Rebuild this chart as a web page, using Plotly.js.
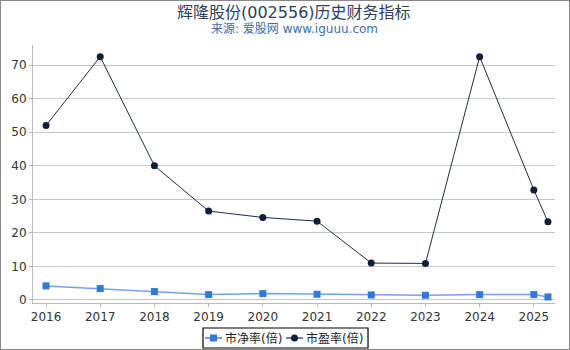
<!DOCTYPE html>
<html><head><meta charset="utf-8">
<script src="https://cdn.plot.ly/plotly-3.0.1.min.js"></script>
<style>html,body{margin:0;padding:0;background:#fff}#c{width:570px;height:350px;box-sizing:border-box;border:1px solid #888}</style>
</head><body><div id="c"></div>
<script>
const years = [2016, 2017, 2018, 2019, 2020, 2021, 2022, 2023, 2024, 2025, 2025.26];
const tickYears = [2016, 2017, 2018, 2019, 2020, 2021, 2022, 2023, 2024, 2025];
const pb = [4.2, 3.4, 2.5, 1.6, 1.9, 1.7, 1.5, 1.4, 1.6, 1.6, 0.9];
const pe = [52, 72.5, 40, 26.5, 24.6, 23.5, 11, 10.9, 72.5, 32.8, 23.3];
const names = ['市净率(倍)', '市盈率(倍)'];
const titleText = '辉隆股份(002556)历史财务指标';
const subText = '来源: 爱股网 www.iguuu.com';

const font = 'DejaVu Sans, Noto Sans CJK SC, sans-serif';
const pbLine = '#6fa3e6', pbMark = '#2f7ad6', peLine = '#1c2e4a', peMark = '#0e1f3a';
const data = [
  {x: years, y: pb, name: names[0], type: 'scatter', mode: 'lines+markers', showlegend: false,
   line: {color: pbLine, width: 1.5}, marker: {symbol: 'square', size: 7, color: pbMark}},
  {x: years, y: pe, name: names[1], type: 'scatter', mode: 'lines+markers', showlegend: false,
   line: {color: peLine, width: 1}, marker: {symbol: 'circle', size: 7, color: peMark}}
];
// legend drawn in paper coordinates
const ly = -0.1357;
const shapes = [
  {type: 'rect', xref: 'paper', yref: 'paper', x0: 0.3257, x1: 0.6418, y0: -0.0969, y1: -0.1744,
   line: {color: '#000', width: 1.2}, fillcolor: '#fff', layer: 'above'},
  {type: 'line', xref: 'paper', yref: 'paper', x0: 0.3295, x1: 0.3621, y0: ly, y1: ly, line: {color: pbLine, width: 2}},
  {type: 'rect', xref: 'paper', yref: 'paper', xsizemode: 'pixel', ysizemode: 'pixel', xanchor: 0.3458, yanchor: ly,
   x0: -3.5, x1: 3.5, y0: -3.5, y1: 3.5, line: {width: 0}, fillcolor: pbMark},
  {type: 'line', xref: 'paper', yref: 'paper', x0: 0.4847, x1: 0.5172, y0: ly, y1: ly, line: {color: peLine, width: 1.2}},
  {type: 'circle', xref: 'paper', yref: 'paper', xsizemode: 'pixel', ysizemode: 'pixel', xanchor: 0.5010, yanchor: ly,
   x0: -3.5, x1: 3.5, y0: -3.5, y1: 3.5, line: {width: 0}, fillcolor: peMark}
];
const layout = {
  width: 568, height: 348,
  margin: {l: 32, r: 14, t: 44, b: 46},
  paper_bgcolor: '#fff', plot_bgcolor: '#fff',
  font: {family: font, size: 12, color: '#333'},
  showlegend: false,
  xaxis: {range: [2015.76, 2025.39], tickmode: 'array', tickvals: tickYears, ticktext: tickYears.map(String),
          showgrid: false, zeroline: false, showline: true, linecolor: '#bbb', linewidth: 1, automargin: false,
          ticks: 'outside', ticklen: 3, tickcolor: '#bbb', tickfont: {size: 12, color: '#333'}},
  yaxis: {range: [-0.9, 76], tickvals: [0, 10, 20, 30, 40, 50, 60, 70], automargin: false,
          showgrid: true, gridcolor: '#c8c8c8', zeroline: false, showline: true, linecolor: '#bbb',
          ticks: 'outside', ticklen: 3, tickcolor: '#bbb', tickfont: {size: 12, color: '#333'}},
  shapes: shapes,
  annotations: [
    {text: titleText, xref: 'paper', yref: 'paper', x: 0.5, y: 1, yshift: 33, xanchor: 'center', yanchor: 'middle',
     showarrow: false, font: {size: 16, color: '#2b3f5c'}},
    {text: subText, xref: 'paper', yref: 'paper', x: 0.5, y: 1, yshift: 16, xanchor: 'center', yanchor: 'middle',
     showarrow: false, font: {size: 12, color: '#3a6ea5'}},
    {text: names[0], xref: 'paper', yref: 'paper', x: 0.3640, y: ly, xanchor: 'left', yanchor: 'middle',
     showarrow: false, font: {size: 12, color: '#222'}},
    {text: names[1], xref: 'paper', yref: 'paper', x: 0.5192, y: ly, xanchor: 'left', yanchor: 'middle',
     showarrow: false, font: {size: 12, color: '#222'}}
  ]
};
Plotly.newPlot('c', data, layout, {displayModeBar: false, staticPlot: true});
</script></body></html>
